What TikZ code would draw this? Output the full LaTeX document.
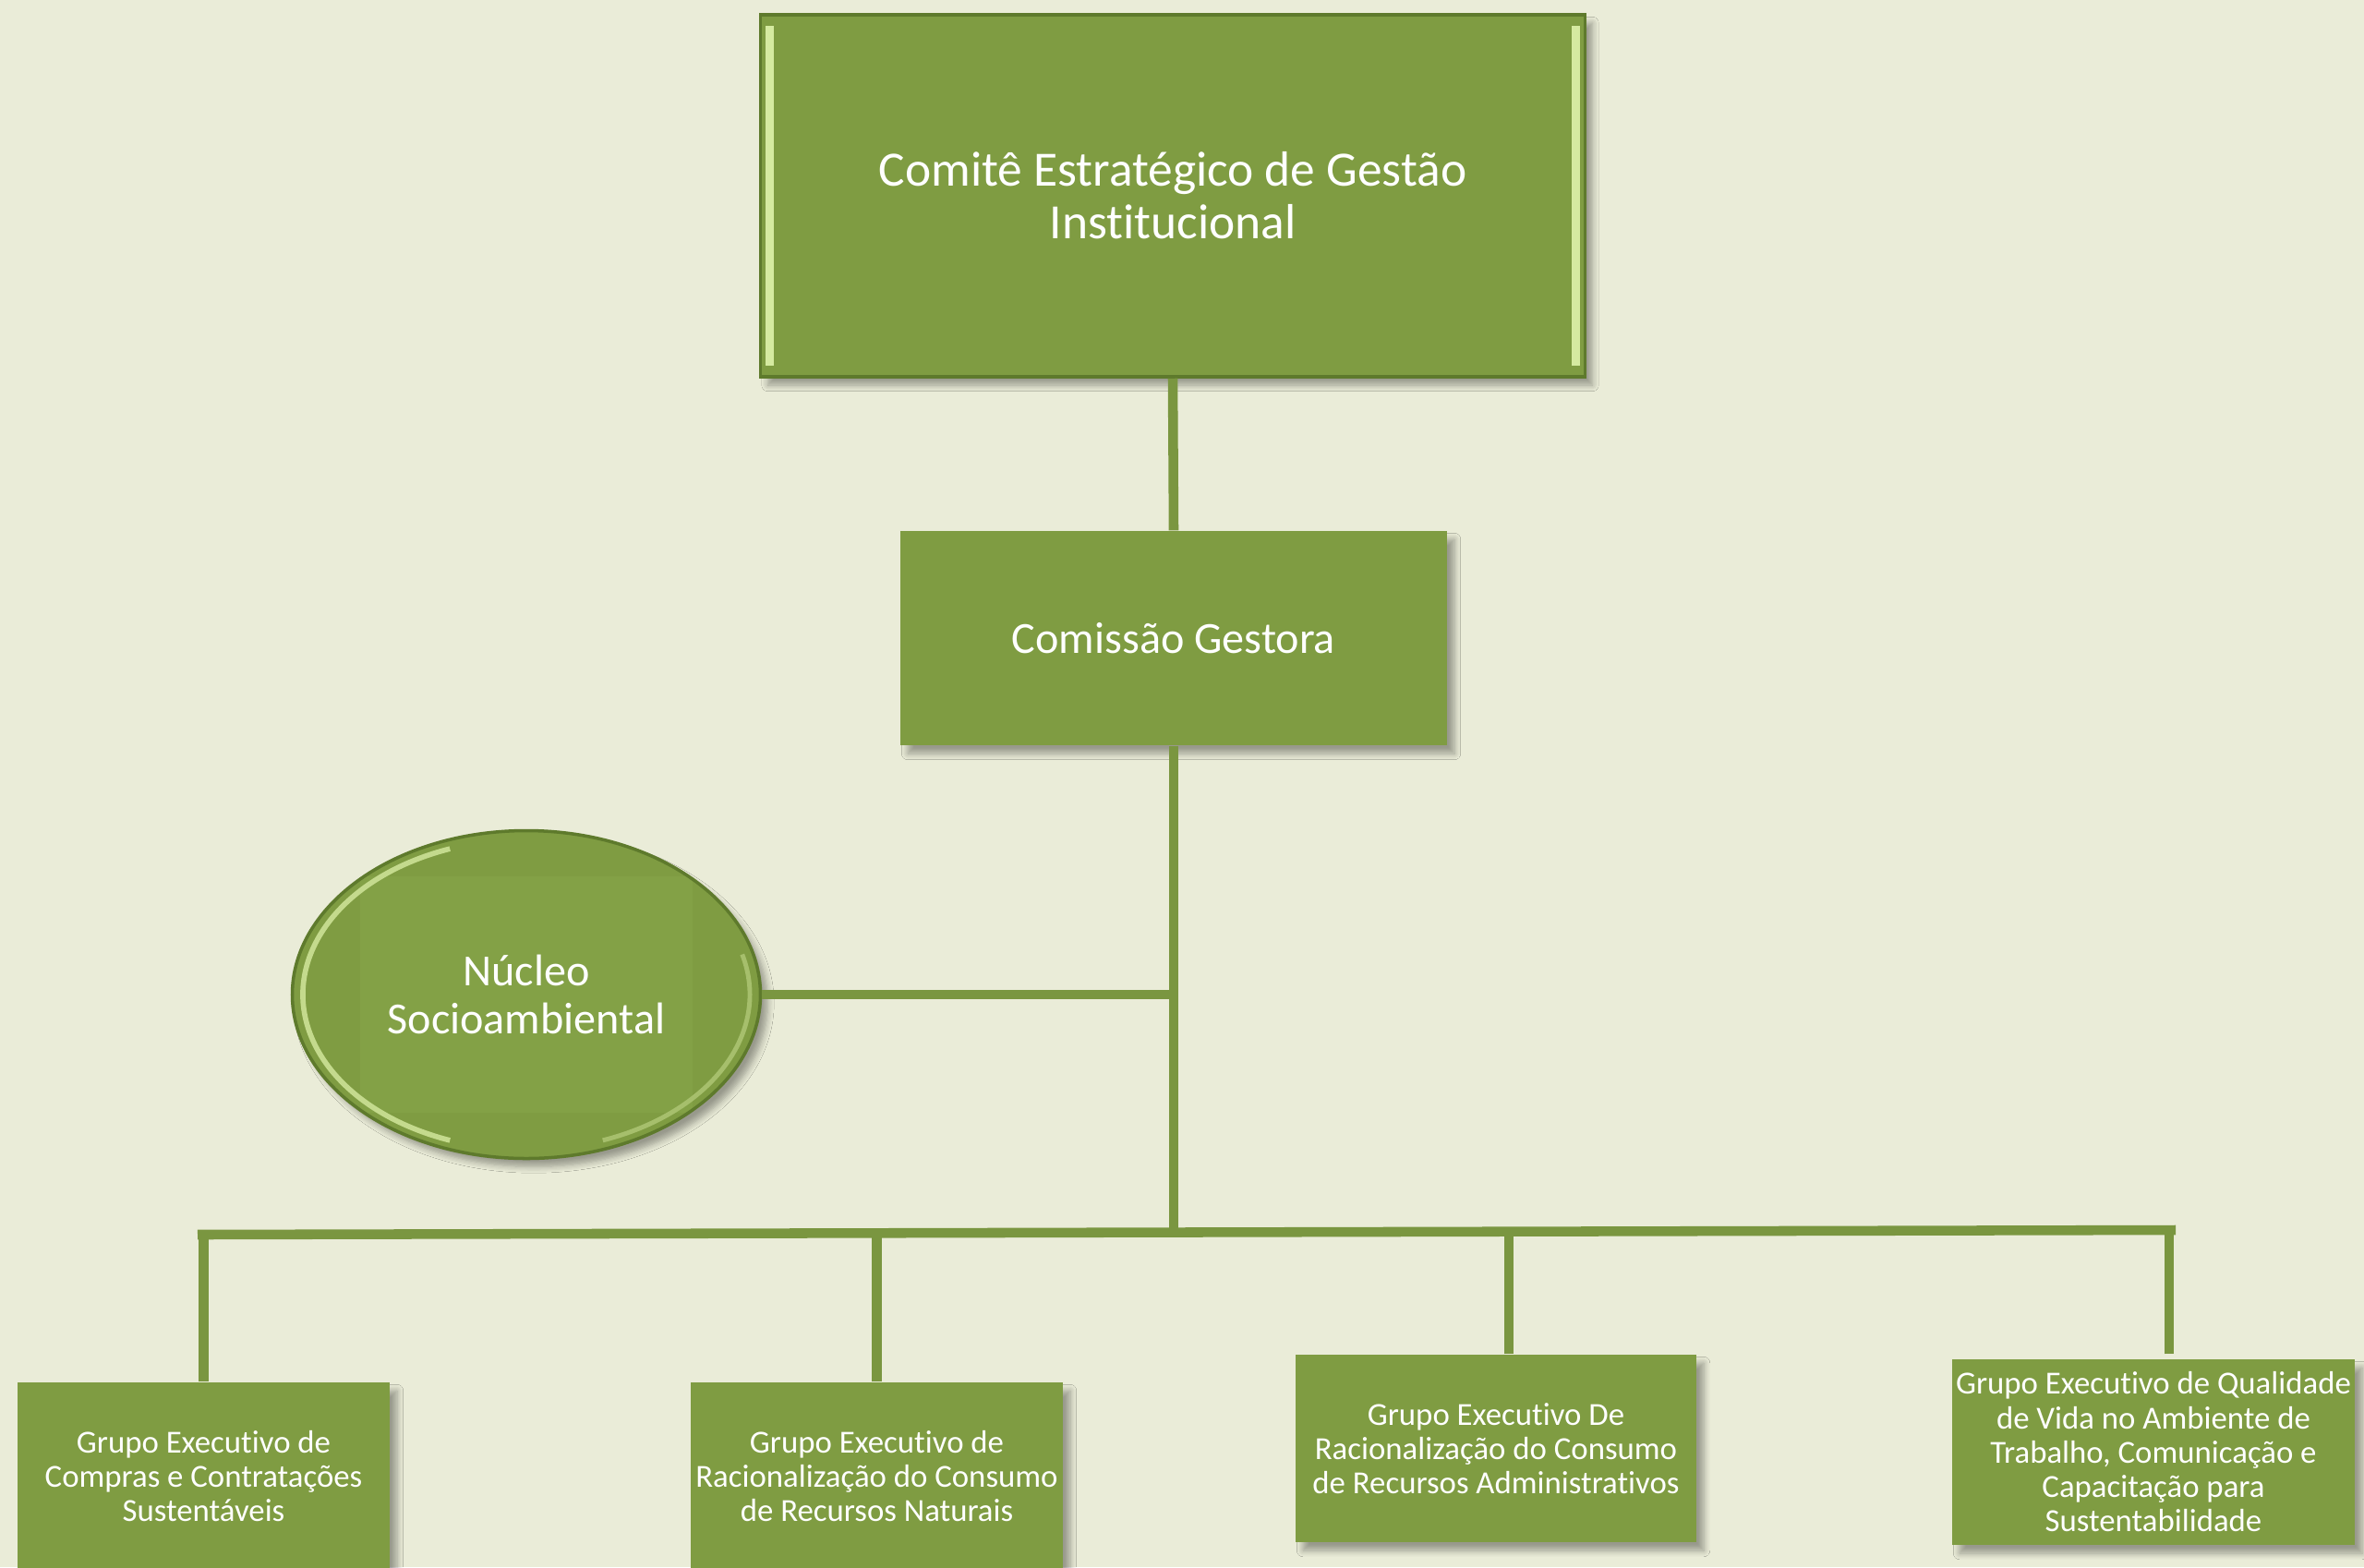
\documentclass[tikz,border=0pt]{standalone}
\usepackage{fontspec}
\setmainfont{Carlito}[Ligatures=NoCommon]
\usetikzlibrary{shapes.geometric,shadows.blur}
\definecolor{fundo}{HTML}{EAECD8}
\definecolor{verde}{HTML}{7F9C42}
\definecolor{linha}{HTML}{7A9640}
\definecolor{borda}{HTML}{5E7A2C}
\definecolor{brilho}{HTML}{D5EAA0}
\definecolor{miolo}{HTML}{83A146}
\begin{document}
\begin{tikzpicture}[
	caixa/.style={rectangle,fill=verde,text=white,align=center,inner sep=0pt,
		blur shadow={shadow xshift=0.8mm,shadow yshift=-0.9mm,shadow blur steps=6,shadow opacity=35}},
	grande/.style={font=\fontsize{13.7}{14.8}\selectfont},
	pequena/.style={font=\fontsize{9.9}{10.6}\selectfont},
	conn/.style={draw=linha,line width=3pt},
	aresta/.style={brilho,line width=2.5pt}]
	\fill[fundo] (0,0) rectangle (25.6,-16.97);
	\useasboundingbox (0,0) rectangle (25.6,-16.97);
	\node[caixa,font=\fontsize{15.2}{16.2}\selectfont,draw=borda,line width=1pt,minimum width=8.93cm,minimum height=3.92cm] (comite) at (12.70,-2.12) {Comitê Estratégico de Gestão\\Institucional};
	\draw[aresta] ([shift={(0.12,-0.14)}]comite.north west) -- ([shift={(0.12,0.14)}]comite.south west);
	\draw[aresta] ([shift={(-0.12,-0.14)}]comite.north east) -- ([shift={(-0.12,0.14)}]comite.south east);
	\node[caixa,grande,minimum width=5.92cm,minimum height=2.32cm] (comissao) at (12.71,-6.91) {Comissão Gestora};
	\node[caixa,grande,ellipse,draw=borda,line width=1pt,minimum width=5.07cm,minimum height=3.55cm,
		path picture={
			\fill[miolo] ([shift={(-1.8,-1.28)}]path picture bounding box.center) rectangle ++(3.6,2.56);
			\draw[brilho!80!verde,line width=1.6pt] ([shift={(110:2.42 and 1.68)}]path picture bounding box.center) arc[start angle=110,end angle=250,x radius=2.42,y radius=1.68];
			\draw[brilho!45!verde,line width=1.4pt] ([shift={(-70:2.42 and 1.68)}]path picture bounding box.center) arc[start angle=-70,end angle=15,x radius=2.42,y radius=1.68];
		}] (nucleo) at (5.70,-10.77) {Núcleo\\Socioambiental};
	\node[caixa,pequena,minimum width=4.03cm,minimum height=2.03cm] (g1) at (2.205,-15.985) {Grupo Executivo de\\Compras e Contratações\\Sustentáveis};
	\node[caixa,pequena,minimum width=4.03cm,minimum height=2.03cm] (g2) at (9.495,-15.985) {Grupo Executivo de\\Racionalização do Consumo\\de Recursos Naturais};
	\node[caixa,pequena,minimum width=4.34cm,minimum height=2.03cm] (g3) at (16.20,-15.685) {Grupo Executivo De\\Racionalização do Consumo\\de Recursos Administrativos};
	\node[caixa,pequena,minimum width=4.36cm,minimum height=2.01cm] (g4) at (23.32,-15.725) {Grupo Executivo de Qualidade\\de Vida no Ambiente de\\Trabalho, Comunicação e\\Capacitação para\\Sustentabilidade};
	\coordinate (bus) at (12.70,-13.35);
	\coordinate (barraA) at (2.14,-13.37);
	\coordinate (barraB) at (23.56,-13.32);
	\draw[conn] (comite.south) -- (comissao.north);
	\draw[conn] (comissao.south) -- (comissao.south |- bus);
	\draw[conn] (nucleo.east) -- (nucleo.east -| bus);
	\draw[conn] (barraA) -- (barraB);
	\draw[conn] (g1.north) -- (g1.north |- barraA);
	\draw[conn] (g2.north) -- (g2.north |- barraA);
	\draw[conn] ([xshift=1.4mm]g3.north) -- ([xshift=1.4mm]g3.north |- barraA);
	\draw[conn] ([shift={(1.7mm,0.5mm)}]g4.north) -- ([xshift=1.7mm]g4.north |- barraB);
\end{tikzpicture}
\end{document}
